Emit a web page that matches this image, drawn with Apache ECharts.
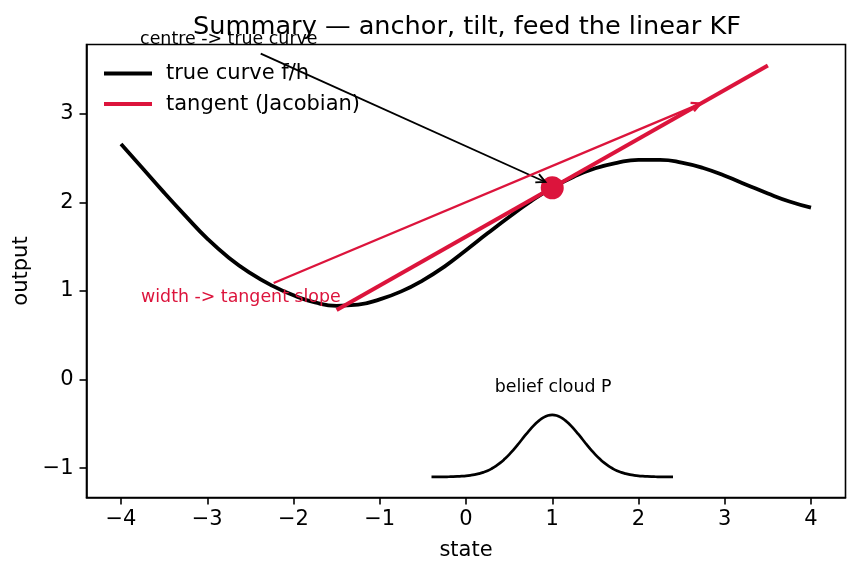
<!DOCTYPE html>
<html><head><meta charset="utf-8">
<script src="https://cdn.jsdelivr.net/npm/echarts@6/dist/echarts.min.js"></script>
<style>html,body{margin:0;padding:0;background:#fff}#c{width:860px;height:573px}</style>
</head><body><div id="c"></div>
<script>
// ---- data ----
const stateGrid = [-4, -3.75, -3.5, -3.25, -3, -2.75, -2.5, -2.25, -2, -1.75, -1.5, -1.25, -1, -0.75, -0.5, -0.25, 0,
                   0.25, 0.5, 0.75, 1, 1.25, 1.5, 1.75, 2, 2.25, 2.5, 2.75, 3, 3.25, 3.5, 3.75, 4];
const trueCurve = [2.66, 2.385, 2.11, 1.845, 1.59, 1.375, 1.20, 1.06, 0.95, 0.87, 0.832, 0.845, 0.905, 0.995, 1.12, 1.275, 1.46,
                   1.65, 1.835, 2.01, 2.165, 2.29, 2.385, 2.447, 2.48, 2.48, 2.45, 2.388, 2.30, 2.20, 2.10, 2.01, 1.94];
const tangentX = [-1.5, 3.5];
const tangentY = [0.785, 3.545];
const anchorX = [1];
const anchorY = [2.165];
const cloudX = [-0.4, -0.35, -0.3, -0.25, -0.2, -0.15, -0.1, -0.05, 0, 0.05, 0.1, 0.15, 0.2, 0.25, 0.3, 0.35, 0.4, 0.45,
                0.5, 0.55, 0.6, 0.65, 0.7, 0.75, 0.8, 0.85, 0.9, 0.95, 1.0, 1.05, 1.1, 1.15, 1.2, 1.25, 1.3, 1.35, 1.4,
                1.45, 1.5, 1.55, 1.6, 1.65, 1.7, 1.75, 1.8, 1.85, 1.9, 1.95, 2.0, 2.05, 2.1, 2.15, 2.2, 2.25, 2.3, 2.35, 2.4];
const cloudY = [-1.100, -1.100, -1.099, -1.099, -1.098, -1.097, -1.095, -1.092, -1.088, -1.082, -1.074, -1.063, -1.049, -1.030,
                -1.005, -0.975, -0.939, -0.896, -0.848, -0.794, -0.736, -0.675, -0.615, -0.558, -0.505, -0.461, -0.428, -0.407,
                -0.400,
                -0.407, -0.428, -0.461, -0.505, -0.558, -0.615, -0.675, -0.736, -0.794, -0.848, -0.896, -0.939, -0.975, -1.005,
                -1.030, -1.049, -1.063, -1.074, -1.082, -1.088, -1.092, -1.095, -1.097, -1.098, -1.099, -1.099, -1.100, -1.100];
const xTicks = [-4, -3, -2, -1, 0, 1, 2, 3, 4];
const yTicks = [-1, 0, 1, 2, 3];
// arrows: [fromX, fromY, toX, toY]
const arrowCentre = [-2.38, 3.68, 0.92, 2.23];
const arrowWidth = [-2.23, 1.09, 2.72, 3.115];
// annotation texts and their anchor (data coords)
const noteTexts = ['centre -> true curve', 'width -> tangent slope', 'belief cloud P'];
const noteX = [-2.75, -2.61, 1.01];
const noteY = [3.84, 0.93, -0.09];

// ---- chart ----
const FONT = '"DejaVu Sans", sans-serif';
const CRIMSON = '#dc143c';
const noteColors = ['#000', CRIMSON, '#000'];
const fmt = v => String(v).replace('-', '\u2212');

function arrowRenderer(color, lw) {
  return function (params, api) {
    const p1 = api.coord([api.value(0), api.value(1)]);
    const p2 = api.coord([api.value(2), api.value(3)]);
    const dx = p2[0] - p1[0], dy = p2[1] - p1[1];
    const L = Math.hypot(dx, dy), ux = dx / L, uy = dy / L;
    const hl = 9, hw = 4.5;
    const bx = p2[0] - ux * hl, by = p2[1] - uy * hl;
    return {
      type: 'group', children: [
        { type: 'line', shape: { x1: p1[0], y1: p1[1], x2: p2[0], y2: p2[1] }, style: { stroke: color, lineWidth: lw } },
        { type: 'polyline', shape: { points: [[bx - uy * hw, by + ux * hw], [p2[0], p2[1]], [bx + uy * hw, by - ux * hw]] },
          style: { stroke: color, lineWidth: lw, fill: null } }
      ]
    };
  };
}

const chart = echarts.init(document.getElementById('c'), null, { renderer: 'canvas' });
chart.setOption({
  animation: false,
  backgroundColor: '#fff',
  textStyle: { fontFamily: FONT },
  title: {
    text: 'Summary \u2014 anchor, tilt, feed the linear KF',
    left: 462, top: 9, textAlign: 'center',
    textStyle: { fontSize: 25.6, fontWeight: 'normal', color: '#000', fontFamily: FONT }
  },
  grid: { left: 86.5, top: 44.5, width: 759, height: 453, show: true, borderColor: '#000', borderWidth: 1.6, backgroundColor: 'transparent' },
  legend: {
    data: ['true curve f/h', 'tangent (Jacobian)'],
    orient: 'vertical', left: 104, top: 63, padding: 0, itemWidth: 48, itemHeight: 4, itemGap: 9.6, icon: 'rect',
    textStyle: { fontSize: 21, lineHeight: 21, color: '#000', fontFamily: FONT, padding: [0, 0, 0, 9] }
  },
  xAxis: {
    type: 'value', min: -4.4, max: 4.4,
    name: 'state', nameLocation: 'middle', nameGap: 43,
    nameTextStyle: { fontSize: 21, color: '#000', fontFamily: FONT },
    axisLine: { show: true, onZero: false, lineStyle: { color: '#000', width: 1.6 } },
    axisTick: { show: true, length: 7, customValues: xTicks, lineStyle: { color: '#000', width: 1.6 } },
    axisLabel: { customValues: xTicks, formatter: fmt, fontSize: 21, color: '#000', margin: 12, fontFamily: FONT },
    splitLine: { show: false }
  },
  yAxis: {
    type: 'value', min: -1.3325, max: 3.7825,
    name: 'output', nameLocation: 'middle', nameGap: 46,
    nameTextStyle: { fontSize: 21, color: '#000', fontFamily: FONT },
    axisLine: { show: true, onZero: false, lineStyle: { color: '#000', width: 1.6 } },
    axisTick: { show: true, length: 7, customValues: yTicks, lineStyle: { color: '#000', width: 1.6 } },
    axisLabel: { customValues: yTicks, formatter: fmt, fontSize: 21, color: '#000', margin: 13, fontFamily: FONT },
    splitLine: { show: false }
  },
  series: [
    {
      name: 'true curve f/h', type: 'line', data: stateGrid.map((x, i) => [x, trueCurve[i]]),
      smooth: true, showSymbol: false, color: '#000', lineStyle: { color: '#000', width: 3.8 }, z: 2
    },
    {
      name: 'tangent (Jacobian)', type: 'line', data: tangentX.map((x, i) => [x, tangentY[i]]),
      showSymbol: false, color: CRIMSON, lineStyle: { color: CRIMSON, width: 4 }, z: 3
    },
    {
      name: 'anchor', type: 'scatter', data: anchorX.map((x, i) => [x, anchorY[i]]),
      symbolSize: 23, itemStyle: { color: CRIMSON, opacity: 1 }, z: 4
    },
    {
      name: 'belief cloud', type: 'line', data: cloudX.map((x, i) => [x, cloudY[i]]),
      smooth: true, showSymbol: false, lineStyle: { color: '#000', width: 2.7 }, z: 3
    },
    {
      name: 'arrowCentre', type: 'custom', data: [arrowCentre], encode: { x: [0, 2], y: [1, 3] },
      renderItem: arrowRenderer('#000', 1.9), z: 5, clip: false
    },
    {
      name: 'arrowWidth', type: 'custom', data: [arrowWidth], encode: { x: [0, 2], y: [1, 3] },
      renderItem: arrowRenderer(CRIMSON, 2.3), z: 5, clip: false
    },
    {
      name: 'notes', type: 'custom', data: noteX.map((x, i) => [x, noteY[i]]), clip: false, z: 6,
      renderItem: function (params, api) {
        const p = api.coord([api.value(0), api.value(1)]);
        return {
          type: 'text', x: p[0], y: p[1],
          style: { text: noteTexts[params.dataIndex], fill: noteColors[params.dataIndex], fontSize: 17.4, fontFamily: FONT, align: 'center', verticalAlign: 'middle' }
        };
      }
    }
  ]
});
</script>
</body></html>
